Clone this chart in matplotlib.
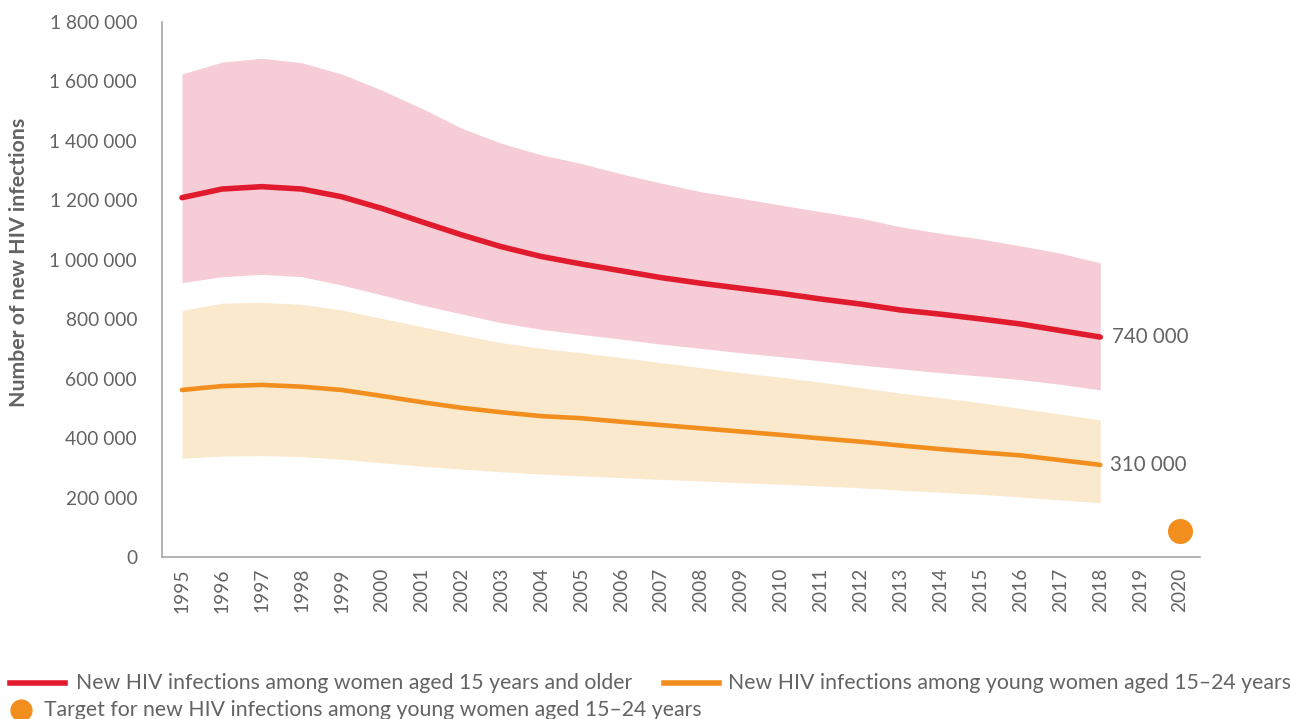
import matplotlib.pyplot as plt
from matplotlib.lines import Line2D
import matplotlib.ticker as mticker

plt.rcParams['font.family'] = ['Lato', 'DejaVu Sans']

years = list(range(1995, 2019))

# women aged 15+ (estimate and bounds)
women_est = [1209000, 1238000, 1246000, 1238000, 1212000, 1173000, 1128000, 1084000,
             1044000, 1011000, 986000, 963000, 940000, 921000, 904000, 887000,
             868000, 851000, 831000, 817000, 801000, 784000, 762000, 740000]
women_hi = [1625000, 1665000, 1678000, 1663000, 1625000, 1571000, 1510000, 1443000,
            1392000, 1353000, 1324000, 1289000, 1258000, 1229000, 1207000, 1184000,
            1162000, 1140000, 1111000, 1089000, 1070000, 1047000, 1022000, 990000]
women_lo = [923000, 943000, 951000, 943000, 915000, 882000, 848000, 818000,
            788000, 766000, 749000, 733000, 716000, 702000, 687000, 674000,
            660000, 646000, 633000, 620000, 609000, 597000, 581000, 562000]

# young women aged 15-24
young_est = [562000, 575000, 579000, 573000, 562000, 542000, 521000, 502000,
             487000, 474000, 467000, 455000, 444000, 433000, 422000, 411000,
             399000, 388000, 375000, 363000, 352000, 342000, 326000, 310000]
young_hi = [829000, 854000, 857000, 850000, 831000, 803000, 775000, 747000,
            721000, 702000, 687000, 671000, 654000, 637000, 620000, 605000,
            588000, 570000, 551000, 536000, 519000, 500000, 481000, 461000]
young_lo = [332000, 340000, 341000, 338000, 329000, 317000, 306000, 296000,
            287000, 279000, 273000, 267000, 261000, 256000, 250000, 245000,
            239000, 233000, 225000, 218000, 211000, 202000, 192000, 183000]

target_year = 2020
target_value = 87000

label_women = 'New HIV infections among women aged 15 years and older'
label_young = 'New HIV infections among young women aged 15\u201324 years'
label_target = 'Target for new HIV infections among young women aged 15\u201324 years'

red = '#E11B2E'
orange = '#F28E1E'
pink = '#F6CDD6'
peach = '#FAE9CC'
grey = '#636363'

fig = plt.figure(figsize=(12.9, 7.19), dpi=100)
ax = fig.add_axes([0.1256, 0.2253, 0.8047, 0.7441])

ax.fill_between(years, women_lo, women_hi, color=pink, linewidth=0)
ax.fill_between(years, young_lo, young_hi, color=peach, linewidth=0)
ax.plot(years, women_est, color=red, linewidth=4.0, solid_capstyle='round')
ax.plot(years, young_est, color=orange, linewidth=3.3, solid_capstyle='round')
ax.plot([target_year], [target_value], 'o', color=orange, markersize=17)

ax.text(years[-1] + 0.3, women_est[-1], '740 000', fontsize=14.8, color=grey, va='center')
ax.text(years[-1] + 0.25, young_est[-1], '310 000', fontsize=14.8, color=grey, va='center')

ax.set_xlim(1994.5, 2020.5)
ax.set_ylim(0, 1800000)
ax.set_xticks(range(1995, 2021))
ax.set_xticklabels([str(y) for y in range(1995, 2021)], rotation=90)
ax.set_yticks(range(0, 1800001, 200000))
ax.yaxis.set_major_formatter(mticker.FuncFormatter(lambda v, p: f'{int(v):,}'.replace(',', ' ')))
ax.tick_params(axis='both', length=0, labelsize=13.8, labelcolor=grey)
ax.tick_params(axis='y', pad=18)
ax.tick_params(axis='x', pad=8)

for side in ['top', 'right']:
    ax.spines[side].set_visible(False)
for side in ['left', 'bottom']:
    ax.spines[side].set_color('#A6A6A6')
    ax.spines[side].set_linewidth(1.2)

ax.set_ylabel('Number of new HIV infections', fontsize=15.3, fontweight='bold', color=grey)
ax.yaxis.set_label_coords(-0.128, 0.551)

# legend at bottom, drawn by hand
fig.add_artist(Line2D([0.008, 0.050], [0.050, 0.050], color=red, linewidth=4.0,
                      transform=fig.transFigure))
fig.text(0.059, 0.050, label_women, fontsize=15.3, color=grey, va='center')
fig.add_artist(Line2D([0.515, 0.557], [0.050, 0.050], color=orange, linewidth=4.0,
                      transform=fig.transFigure))
fig.text(0.564, 0.050, label_young, fontsize=15.3, color=grey, va='center')
fig.add_artist(Line2D([0.0165], [0.013], marker='o', color=orange, markersize=15,
                      linestyle='none', transform=fig.transFigure))
fig.text(0.034, 0.013, label_target, fontsize=15.3, color=grey, va='center')

fig.savefig('out.png', dpi=100)
